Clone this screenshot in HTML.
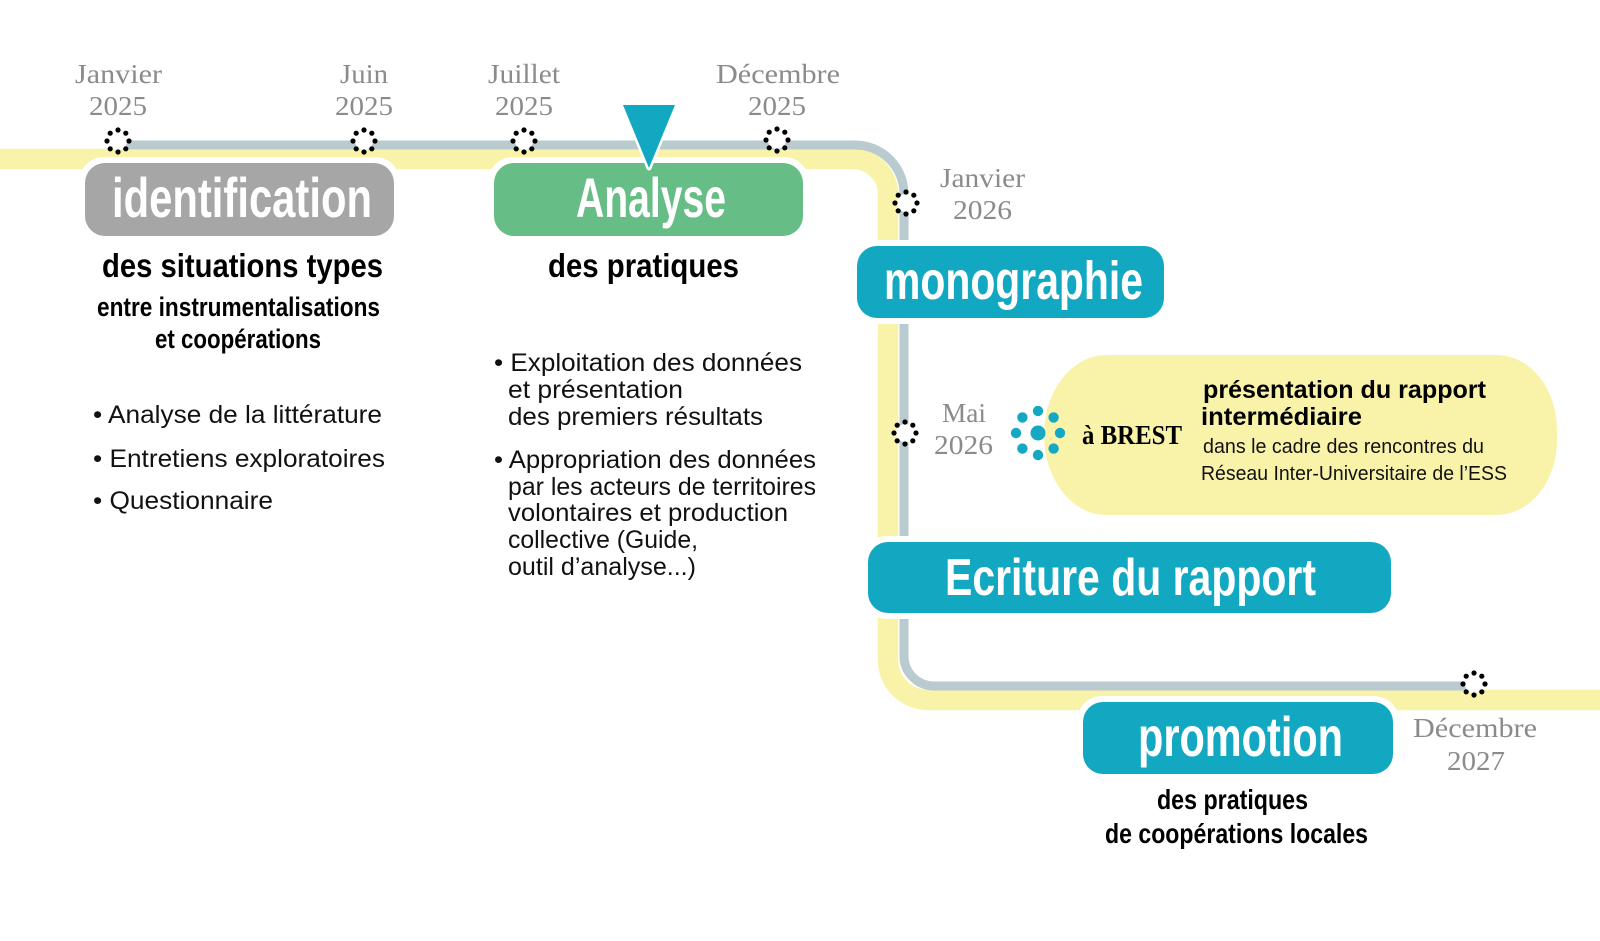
<!DOCTYPE html>
<html>
<head>
<meta charset="utf-8">
<style>
html,body{margin:0;padding:0;background:#fff;}
svg{display:block;}
.date{font-family:"Liberation Serif",serif;font-size:27px;fill:#8b8b8b;}
.title{font-family:"Liberation Sans Narrow","Liberation Sans",sans-serif;font-weight:bold;fill:#fff;}
.sub{font-family:"Liberation Sans Narrow","Liberation Sans",sans-serif;font-weight:bold;fill:#000;}
.body{font-family:"Liberation Sans",sans-serif;fill:#111;}
</style>
</head>
<body>
<svg width="1600" height="941" viewBox="0 0 1600 941" xmlns="http://www.w3.org/2000/svg">
<rect width="1600" height="941" fill="#fff"/>

<!-- yellow band -->
<path d="M0,159 H853 A35,35 0 0 1 888,194 V660 A40,40 0 0 0 928,700 H1600" fill="none" stroke="#f9f3aa" stroke-width="20.5"/>
<!-- grey line -->
<path d="M118,145 H855 A49,49 0 0 1 904,194 V656 A30,30 0 0 0 934,686 H1474" fill="none" stroke="#b9cbce" stroke-width="9"/>

<!-- yellow pill -->
<path d="M1106,355 H1497 A60,75 0 0 1 1557,430 V440 A60,75 0 0 1 1497,515 H1106 A62,80 0 0 1 1044,435 A62,80 0 0 1 1106,355 Z" fill="#f9f3aa"/>

<!-- boxes -->
<rect x="79" y="157" width="321" height="85" rx="25" fill="#fff"/>
<rect x="85" y="163" width="309" height="73" rx="20" fill="#a6a6a6"/>

<rect x="488" y="157" width="321" height="85" rx="25" fill="#fff"/>
<rect x="494" y="163" width="309" height="73" rx="20" fill="#67bd86"/>

<rect x="851" y="240" width="319" height="84" rx="25" fill="#fff"/>
<rect x="857" y="246" width="307" height="72" rx="20" fill="#13a8c1"/>

<rect x="862" y="536" width="535" height="83" rx="25" fill="#fff"/>
<rect x="868" y="542" width="523" height="71" rx="20" fill="#13a8c1"/>

<rect x="1077" y="696" width="322" height="84" rx="25" fill="#fff"/>
<rect x="1083" y="702" width="310" height="72" rx="20" fill="#13a8c1"/>

<!-- triangle marker -->
<polygon points="623,105 675,105 649,168" fill="#13a8c1" stroke="#fff" stroke-width="5" stroke-linejoin="round"/>
<polygon points="623,105 675,105 649,168" fill="#13a8c1"/>

<!-- dotted milestone rings -->
<g fill="#000">
<g transform="translate(118,141)"><circle r="9" fill="#fff"/><circle cx="0" cy="-11" r="2.6"/><circle cx="7.8" cy="-7.8" r="2.6"/><circle cx="11" cy="0" r="2.6"/><circle cx="7.8" cy="7.8" r="2.6"/><circle cx="0" cy="11" r="2.6"/><circle cx="-7.8" cy="7.8" r="2.6"/><circle cx="-11" cy="0" r="2.6"/><circle cx="-7.8" cy="-7.8" r="2.6"/></g>
<g transform="translate(364,141)"><circle r="9" fill="#fff"/><circle cx="0" cy="-11" r="2.6"/><circle cx="7.8" cy="-7.8" r="2.6"/><circle cx="11" cy="0" r="2.6"/><circle cx="7.8" cy="7.8" r="2.6"/><circle cx="0" cy="11" r="2.6"/><circle cx="-7.8" cy="7.8" r="2.6"/><circle cx="-11" cy="0" r="2.6"/><circle cx="-7.8" cy="-7.8" r="2.6"/></g>
<g transform="translate(524,141)"><circle r="9" fill="#fff"/><circle cx="0" cy="-11" r="2.6"/><circle cx="7.8" cy="-7.8" r="2.6"/><circle cx="11" cy="0" r="2.6"/><circle cx="7.8" cy="7.8" r="2.6"/><circle cx="0" cy="11" r="2.6"/><circle cx="-7.8" cy="7.8" r="2.6"/><circle cx="-11" cy="0" r="2.6"/><circle cx="-7.8" cy="-7.8" r="2.6"/></g>
<g transform="translate(777,140)"><circle r="9" fill="#fff"/><circle cx="0" cy="-11" r="2.6"/><circle cx="7.8" cy="-7.8" r="2.6"/><circle cx="11" cy="0" r="2.6"/><circle cx="7.8" cy="7.8" r="2.6"/><circle cx="0" cy="11" r="2.6"/><circle cx="-7.8" cy="7.8" r="2.6"/><circle cx="-11" cy="0" r="2.6"/><circle cx="-7.8" cy="-7.8" r="2.6"/></g>
<g transform="translate(906,203)"><circle r="9" fill="#fff"/><circle cx="0" cy="-11" r="2.6"/><circle cx="7.8" cy="-7.8" r="2.6"/><circle cx="11" cy="0" r="2.6"/><circle cx="7.8" cy="7.8" r="2.6"/><circle cx="0" cy="11" r="2.6"/><circle cx="-7.8" cy="7.8" r="2.6"/><circle cx="-11" cy="0" r="2.6"/><circle cx="-7.8" cy="-7.8" r="2.6"/></g>
<g transform="translate(905,433)"><circle r="9" fill="#fff"/><circle cx="0" cy="-11" r="2.6"/><circle cx="7.8" cy="-7.8" r="2.6"/><circle cx="11" cy="0" r="2.6"/><circle cx="7.8" cy="7.8" r="2.6"/><circle cx="0" cy="11" r="2.6"/><circle cx="-7.8" cy="7.8" r="2.6"/><circle cx="-11" cy="0" r="2.6"/><circle cx="-7.8" cy="-7.8" r="2.6"/></g>
<g transform="translate(1474,684)"><circle r="9" fill="#fff"/><circle cx="0" cy="-11" r="2.6"/><circle cx="7.8" cy="-7.8" r="2.6"/><circle cx="11" cy="0" r="2.6"/><circle cx="7.8" cy="7.8" r="2.6"/><circle cx="0" cy="11" r="2.6"/><circle cx="-7.8" cy="7.8" r="2.6"/><circle cx="-11" cy="0" r="2.6"/><circle cx="-7.8" cy="-7.8" r="2.6"/></g>
</g>

<!-- teal cluster -->
<g transform="translate(1038,433)" fill="#14a8c3">
<circle r="7.5"/>
<circle cx="0" cy="-22" r="5.2"/><circle cx="15.6" cy="-15.6" r="5.2"/><circle cx="22" cy="0" r="5.2"/><circle cx="15.6" cy="15.6" r="5.2"/><circle cx="0" cy="22" r="5.2"/><circle cx="-15.6" cy="15.6" r="5.2"/><circle cx="-22" cy="0" r="5.2"/><circle cx="-15.6" cy="-15.6" r="5.2"/>
</g>

<!-- date labels -->
<text class="date" x="75" y="83" textLength="87" lengthAdjust="spacingAndGlyphs">Janvier</text>
<text class="date" x="89" y="115" textLength="58" lengthAdjust="spacingAndGlyphs">2025</text>
<text class="date" x="340" y="83" textLength="48" lengthAdjust="spacingAndGlyphs">Juin</text>
<text class="date" x="335" y="115" textLength="58" lengthAdjust="spacingAndGlyphs">2025</text>
<text class="date" x="488" y="83" textLength="72" lengthAdjust="spacingAndGlyphs">Juillet</text>
<text class="date" x="495" y="115" textLength="58" lengthAdjust="spacingAndGlyphs">2025</text>
<text class="date" x="716" y="83" textLength="124" lengthAdjust="spacingAndGlyphs">Décembre</text>
<text class="date" x="748" y="115" textLength="58" lengthAdjust="spacingAndGlyphs">2025</text>
<text class="date" x="940" y="187" textLength="85" lengthAdjust="spacingAndGlyphs">Janvier</text>
<text class="date" x="953" y="219" textLength="59" lengthAdjust="spacingAndGlyphs">2026</text>
<text class="date" x="942" y="422" textLength="44" lengthAdjust="spacingAndGlyphs">Mai</text>
<text class="date" x="934" y="454" textLength="59" lengthAdjust="spacingAndGlyphs">2026</text>
<text class="date" x="1413" y="737" textLength="124" lengthAdjust="spacingAndGlyphs">Décembre</text>
<text class="date" x="1447" y="770" textLength="58" lengthAdjust="spacingAndGlyphs">2027</text>

<!-- box titles -->
<text class="title" x="112" y="217" font-size="56" textLength="260" lengthAdjust="spacingAndGlyphs">identification</text>
<text class="title" x="576" y="217" font-size="56" textLength="150" lengthAdjust="spacingAndGlyphs">Analyse</text>
<text class="title" x="884" y="299" font-size="54" textLength="259" lengthAdjust="spacingAndGlyphs">monographie</text>
<text class="title" x="945" y="595" font-size="52" textLength="371" lengthAdjust="spacingAndGlyphs">Ecriture du rapport</text>
<text class="title" x="1138" y="756" font-size="56" textLength="205" lengthAdjust="spacingAndGlyphs">promotion</text>

<!-- subtitles -->
<text class="sub" x="102" y="277" font-size="33" textLength="281" lengthAdjust="spacingAndGlyphs">des situations types</text>
<text class="sub" x="97" y="316" font-size="27" textLength="283" lengthAdjust="spacingAndGlyphs">entre instrumentalisations</text>
<text class="sub" x="155" y="348" font-size="27" textLength="166" lengthAdjust="spacingAndGlyphs">et coopérations</text>
<text class="sub" x="548" y="277" font-size="33" textLength="191" lengthAdjust="spacingAndGlyphs">des pratiques</text>
<text class="sub" x="1157" y="809" font-size="28" textLength="151" lengthAdjust="spacingAndGlyphs">des pratiques</text>
<text class="sub" x="1105" y="843" font-size="28" textLength="263" lengthAdjust="spacingAndGlyphs">de coopérations locales</text>

<!-- identification bullets -->
<text class="body" x="93" y="423" font-size="25" textLength="289" lengthAdjust="spacingAndGlyphs">• Analyse de la littérature</text>
<text class="body" x="93" y="467" font-size="25" textLength="292" lengthAdjust="spacingAndGlyphs">• Entretiens exploratoires</text>
<text class="body" x="93" y="509" font-size="25" textLength="180" lengthAdjust="spacingAndGlyphs">• Questionnaire</text>

<!-- analyse bullets -->
<text class="body" x="494" y="371" font-size="25" textLength="308" lengthAdjust="spacingAndGlyphs">• Exploitation des données</text>
<text class="body" x="508" y="398" font-size="25" textLength="175" lengthAdjust="spacingAndGlyphs">et présentation</text>
<text class="body" x="508" y="425" font-size="25" textLength="255" lengthAdjust="spacingAndGlyphs">des premiers résultats</text>
<text class="body" x="494" y="468" font-size="25" textLength="322" lengthAdjust="spacingAndGlyphs">• Appropriation des données</text>
<text class="body" x="508" y="495" font-size="25" textLength="308" lengthAdjust="spacingAndGlyphs">par les acteurs de territoires</text>
<text class="body" x="508" y="521" font-size="25" textLength="280" lengthAdjust="spacingAndGlyphs">volontaires et production</text>
<text class="body" x="508" y="548" font-size="25" textLength="190" lengthAdjust="spacingAndGlyphs">collective (Guide,</text>
<text class="body" x="508" y="575" font-size="25" textLength="188" lengthAdjust="spacingAndGlyphs">outil d’analyse...)</text>

<!-- pill texts -->
<text x="1082" y="444" font-family="'Liberation Serif',serif" font-weight="bold" font-size="27" fill="#000" textLength="100" lengthAdjust="spacingAndGlyphs">à BREST</text>
<text x="1203" y="398" font-family="'Liberation Sans',sans-serif" font-weight="bold" font-size="25" fill="#000" textLength="283" lengthAdjust="spacingAndGlyphs">présentation du rapport</text>
<text x="1201" y="425" font-family="'Liberation Sans',sans-serif" font-weight="bold" font-size="25" fill="#000" textLength="161" lengthAdjust="spacingAndGlyphs">intermédiaire</text>
<text x="1203" y="453" font-family="'Liberation Sans',sans-serif" font-size="20" fill="#111" textLength="281" lengthAdjust="spacingAndGlyphs">dans le cadre des rencontres du</text>
<text x="1201" y="480" font-family="'Liberation Sans',sans-serif" font-size="20" fill="#111" textLength="306" lengthAdjust="spacingAndGlyphs">Réseau Inter-Universitaire de l’ESS</text>
</svg>
</body>
</html>
